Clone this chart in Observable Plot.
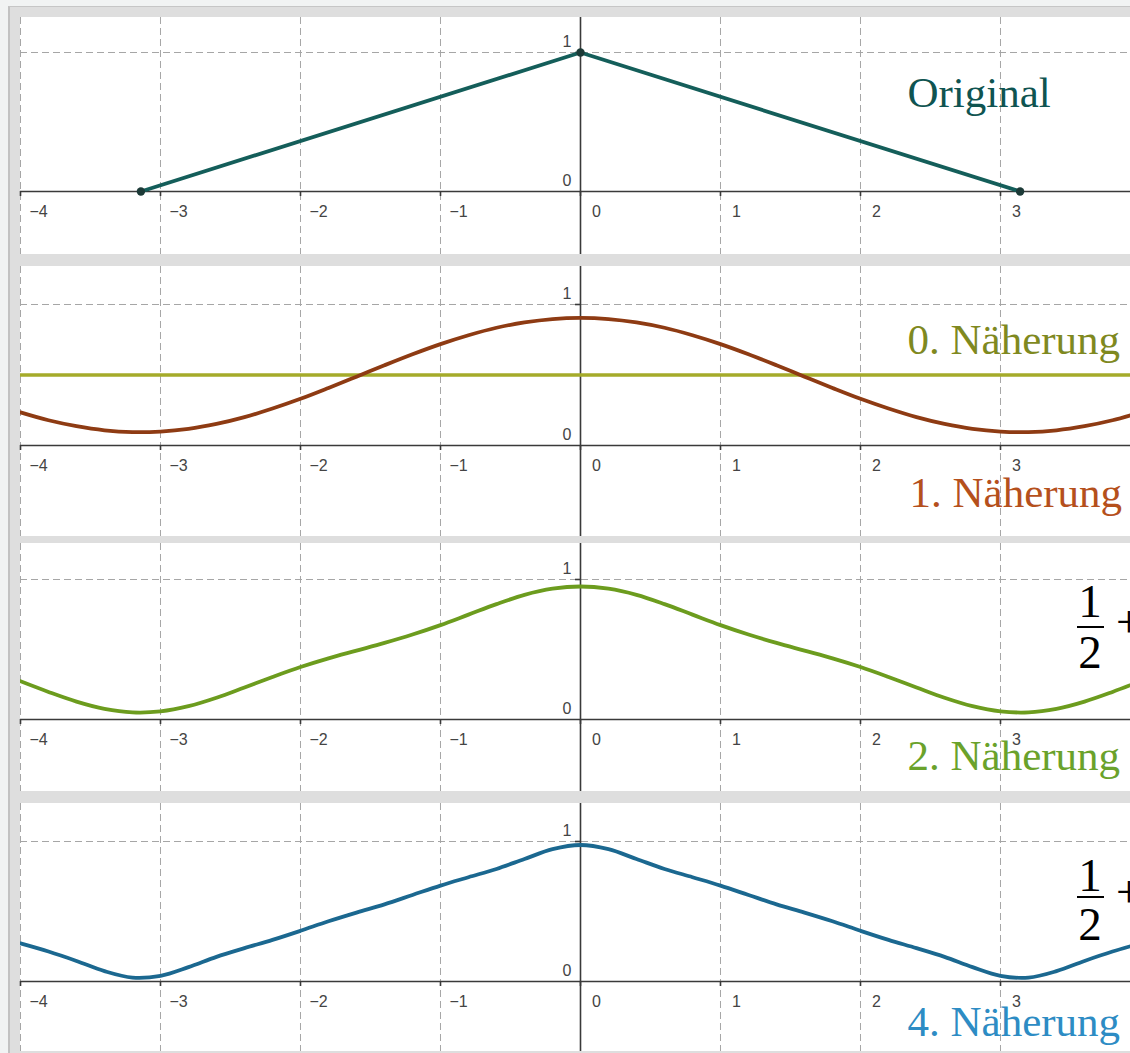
<!DOCTYPE html>
<html><head><meta charset="utf-8">
<script src="https://cdn.jsdelivr.net/npm/d3@7"></script>
<script src="https://cdn.jsdelivr.net/npm/@observablehq/plot@0.6"></script>
<style>
html,body{margin:0;padding:0;}
body{width:1130px;height:1053px;overflow:hidden;background:#f1f3f3;position:relative;}
#frame{position:absolute;left:8px;top:6px;width:1130px;height:1060px;background:#dedede;border-left:2px solid #c2c2c2;border-top:1px solid #c6c6c6;}
.panel{position:absolute;left:20px;}
.panel svg{display:block;}
.fr{position:absolute;font-family:"Liberation Serif",serif;color:#000;font-size:47px;line-height:47px;width:40px;text-align:center;}
.bar{position:absolute;background:#000;height:2px;width:27px;}
.plus{position:absolute;font-family:"Liberation Serif",serif;color:#000;font-size:46px;line-height:46px;}
</style></head><body>
<div id="frame"></div>
<div id="p1" class="panel" style="top:17px"></div>
<div id="p2" class="panel" style="top:266px"></div>
<div id="p3" class="panel" style="top:543px"></div>
<div id="p4" class="panel" style="top:803px"></div>
<div class="fr" style="left:1070px;top:578px">1</div>
<div class="bar" style="left:1077px;top:626px"></div>
<div class="fr" style="left:1070px;top:629px">2</div>
<div class="plus" style="left:1116px;top:599px">+</div>
<div class="fr" style="left:1070px;top:852px">1</div>
<div class="bar" style="left:1077px;top:896px"></div>
<div class="fr" style="left:1070px;top:901px">2</div>
<div class="plus" style="left:1116px;top:869px">+</div>
<script>
// ---- data ----
const xTicks = [-4, -3, -2, -1, 0, 1, 2, 3];
const yTicks = [0, 1];
const triX = [-3.14, 0, 3.14];
const triY = [0, 1, 0];
const xs = [-4,-3.8,-3.6,-3.4,-3.2,-3,-2.8,-2.6,-2.4,-2.2,-2,-1.8,-1.6,-1.4,-1.2,-1,-0.8,-0.6,-0.4,-0.2,0,
            0.2,0.4,0.6,0.8,1,1.2,1.4,1.6,1.8,2,2.2,2.4,2.6,2.8,3,3.2,3.4,3.6,3.8,4];
const approx0 = 0.5;
const approx1 = [.235,.179,.137,.108,.095,.099,.118,.153,.201,.262,.331,.408,.488,.569,.647,.719,.782,.835,.873,.897,.905,
                 .897,.873,.835,.782,.719,.647,.569,.488,.408,.331,.262,.201,.153,.118,.099,.095,.108,.137,.179,.235];
const approx2 = [.273,.197,.128,.076,.051,.058,.095,.155,.229,.304,.375,.437,.492,.547,.607,.674,.749,.824,.890,.934,.950,
                 .934,.890,.824,.749,.674,.607,.547,.492,.437,.375,.304,.229,.155,.095,.058,.051,.076,.128,.197,.273];
const approx4 = [.272,.214,.147,.074,.028,.041,.103,.176,.238,.297,.362,.430,.492,.551,.618,.685,.745,.804,.875,.945,.975,
                 .945,.875,.804,.745,.685,.618,.551,.492,.430,.362,.297,.238,.176,.103,.041,.028,.074,.147,.214,.272];
const labels = ["Original", "0. Näherung", "1. Näherung", "2. Näherung", "4. Näherung"];

// ---- drawing ----
const W = 1110;
const X_DOMAIN = [-4, 3.9286];
const tickFont = "Liberation Sans, Arial, sans-serif";
const serif = "Liberation Serif, Times New Roman, serif";
const fmt = d => d < 0 ? "\u2212" + (-d) : String(d);

function base(ppu) {
  return [
    Plot.ruleX(xTicks.filter(d => d !== 0), {stroke: "#a6a6a6", strokeWidth: 1, strokeDasharray: "7,4"}),
    Plot.ruleY([1], {stroke: "#a6a6a6", strokeWidth: 1, strokeDasharray: "7,4"}),
    Plot.ruleY([0], {stroke: "#3a3a3a", strokeWidth: 1.6}),
    Plot.ruleX([0], {stroke: "#3a3a3a", strokeWidth: 1.6}),
    Plot.ruleX(xTicks, {x: d => d, y1: 0, y2: -5 / ppu, stroke: "#3a3a3a", strokeWidth: 1.6}),
    Plot.ruleY([1], {y: d => d, x1: -5 / 140, x2: 0, stroke: "#3a3a3a", strokeWidth: 1.6}),
    Plot.text(xTicks.filter(d => d < 0), {x: d => d, y: 0, text: fmt, textAnchor: "start", dx: 9, dy: 20,
      fontSize: 16, fill: "#444", fontFamily: tickFont}),
    Plot.text(xTicks.filter(d => d >= 0), {x: d => d, y: 0, text: fmt, textAnchor: "middle", dx: 16, dy: 20,
      fontSize: 16, fill: "#444", fontFamily: tickFont}),
    Plot.text(yTicks, {x: 0, y: d => d, text: d => String(d), textAnchor: "end", dx: -9, dy: -11,
      fontSize: 16, fill: "#444", fontFamily: tickFont})
  ];
}

function label(text, color, dx, dy) {
  return Plot.text([text], {text: d => d, frameAnchor: "top-left", textAnchor: "start", lineAnchor: "bottom",
    dx, dy, fontSize: 43, fill: color, fontFamily: serif});
}

function panel(id, height, axisPx, ppu, marks) {
  const top = axisPx / ppu, bottom = -(height - axisPx) / ppu;
  const chart = Plot.plot({
    width: W, height, margin: 0,
    style: {background: "white", overflow: "visible"},
    x: {domain: X_DOMAIN, axis: null},
    y: {domain: [bottom, top], axis: null},
    marks: [...base(ppu), ...marks]
  });
  document.getElementById(id).appendChild(chart);
}

const idx = xs.map((_, i) => i);

panel("p1", 237, 174, 139, [
  Plot.line(triX.map((x, i) => i), {x: i => triX[i], y: i => triY[i], stroke: "#145e5a", strokeWidth: 3.8}),
  Plot.dot(triX.map((x, i) => i), {x: i => triX[i], y: i => triY[i], r: 4.2, fill: "#1c3a37", stroke: "none"}),
  label(labels[0], "#0f5451", 887, 89)
]);

panel("p2", 270, 179, 141, [
  Plot.ruleY([approx0], {stroke: "#a5ab2a", strokeWidth: 3.6}),
  Plot.line(idx, {x: i => xs[i], y: i => approx1[i], stroke: "#8e3b13", strokeWidth: 3.8, curve: "catmull-rom", clip: true}),
  label(labels[1], "#7f891f", 887, 87),
  label(labels[2], "#b5501c", 889, 240)
]);

panel("p3", 248, 176, 140, [
  Plot.line(idx, {x: i => xs[i], y: i => approx2[i], stroke: "#6c9c1e", strokeWidth: 3.8, curve: "catmull-rom", clip: true}),
  label(labels[3], "#6aa22b", 887, 226)
]);

panel("p4", 248, 178, 140, [
  Plot.line(idx, {x: i => xs[i], y: i => approx4[i], stroke: "#1b6890", strokeWidth: 3.8, curve: "catmull-rom", clip: true}),
  label(labels[4], "#2d8cc4", 887, 232)
]);
</script>
</body></html>
